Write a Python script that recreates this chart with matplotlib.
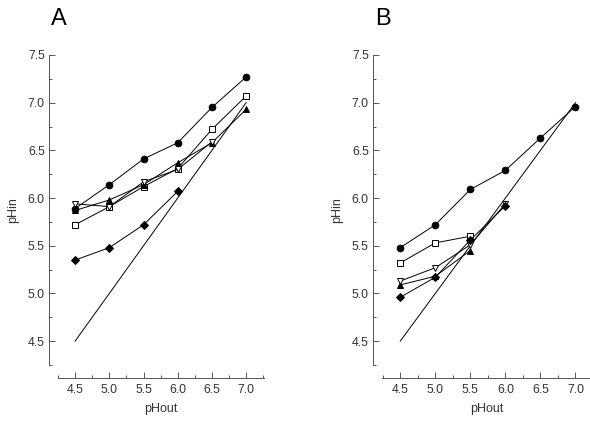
import matplotlib.pyplot as plt
from matplotlib.ticker import MultipleLocator

plt.rcParams["font.family"] = ["Liberation Sans", "DejaVu Sans"]

# pHout values
ph_out = [4.5, 5.0, 5.5, 6.0, 6.5, 7.0]

# panel A
a_circle = [5.89, 6.14, 6.41, 6.58, 6.95, 7.27]
a_square = [5.72, 5.91, 6.12, 6.31, 6.72, 7.07]
a_tri_up = [5.87, 5.98, 6.14, 6.37, 6.58, 6.93]
a_tri_down = [5.94, 5.91, 6.17, 6.30, 6.59]
a_diamond = [5.35, 5.48, 5.72, 6.07]

# panel B
b_circle = [5.48, 5.72, 6.09, 6.29, 6.63, 6.96]
b_square = [5.32, 5.53, 5.60]
b_tri_down = [5.13, 5.27, 5.51, 5.94]
b_tri_up = [5.09, 5.18, 5.45]
b_diamond = [4.96, 5.17, 5.56, 5.92]

identity = [4.5, 7.0]


def draw_panel(ax, series, letter, xlim, letter_x):
    # the pHin = pHout line
    ax.plot(identity, identity, color="black", linewidth=0.7)

    styles = [("o", "black", 4.8), ("s", "white", 4.8), ("^", "black", 4.8),
              ("v", "white", 5.0), ("D", "black", 3.8)]
    for vals, (m, fc, ms) in zip(series, styles):
        ax.plot(ph_out[:len(vals)], vals, color="black", linewidth=0.7,
                marker=m, markerfacecolor=fc, markeredgecolor="black",
                markersize=ms, markeredgewidth=0.7)

    ax.set_xlim(*xlim)
    ax.set_ylim(4.25, 7.5)
    ax.xaxis.set_major_locator(MultipleLocator(0.5))
    ax.xaxis.set_minor_locator(MultipleLocator(0.25))
    ax.yaxis.set_major_locator(MultipleLocator(0.5))
    ax.yaxis.set_minor_locator(MultipleLocator(0.25))
    ax.set_xticks([4.5, 5.0, 5.5, 6.0, 6.5, 7.0])
    ax.set_xticklabels(["4.5", "5.0", "5.5", "6.0", "6.5", "7.0"])

    for s in ["top", "right"]:
        ax.spines[s].set_visible(False)
    ax.spines["left"].set_position(("outward", 6.5))
    ax.spines["bottom"].set_position(("outward", 9.4))
    for s in ["left", "bottom"]:
        ax.spines[s].set_color("#555555")
        ax.spines[s].set_linewidth(0.7)

    ax.tick_params(which="both", direction="in", color="#555555", width=0.7,
                   labelsize=8.8, labelcolor="#333333")
    ax.tick_params(which="major", length=4)
    ax.tick_params(which="minor", length=2.5)
    ax.tick_params(axis="x", pad=4)
    ax.tick_params(axis="y", pad=3)

    ax.set_xlabel("pHout", fontsize=9, color="#333333", labelpad=5)
    ax.set_ylabel("pHin", fontsize=9, color="#333333", labelpad=6)
    ax.text(letter_x, 1.097, letter, transform=ax.transAxes, fontsize=17,
            color="black", ha="left", va="baseline")


fig = plt.figure(figsize=(5.9, 4.25), dpi=100)
ax_a = fig.add_axes([0.0983, 0.1412, 0.349, 0.7294])
ax_b = fig.add_axes([0.6475, 0.1412, 0.354, 0.7294])

draw_panel(ax_a, [a_circle, a_square, a_tri_up, a_tri_down, a_diamond], "A", (4.25, 7.26), -0.035)
draw_panel(ax_b, [b_circle, b_square, b_tri_up, b_tri_down, b_diamond], "B", (4.24, 7.22), -0.035)

fig.savefig("out.png", dpi=100)
